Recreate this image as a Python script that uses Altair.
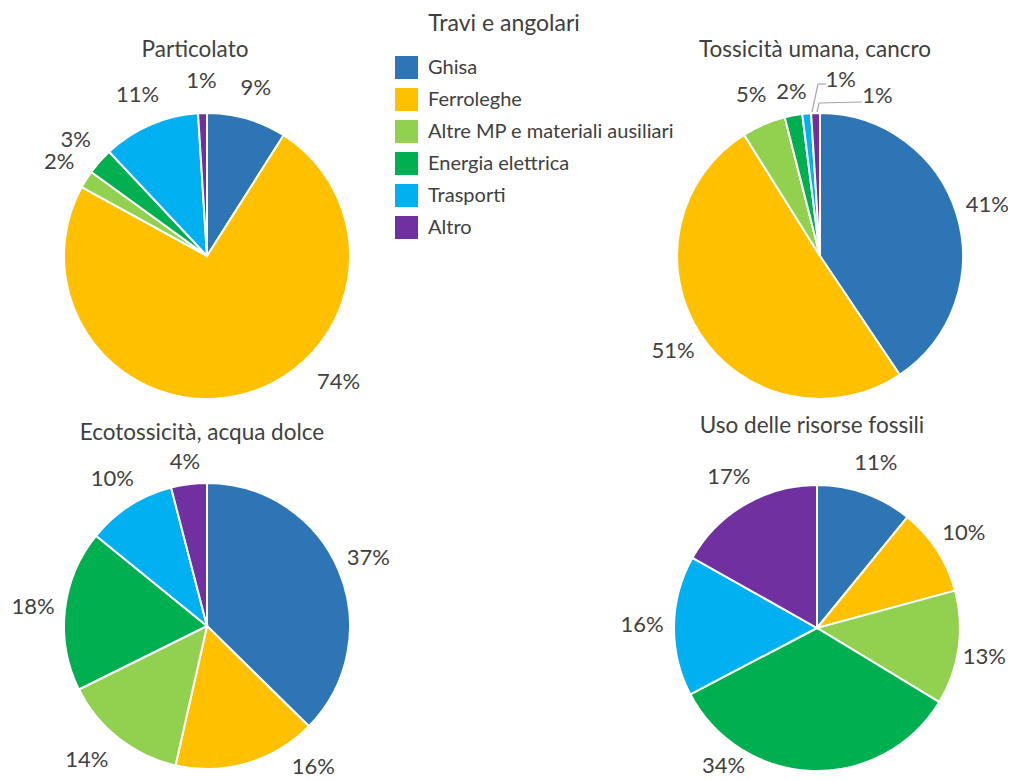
import altair as alt
import pandas as pd

# ---- data ----
categories = ["Ghisa", "Ferroleghe", "Altre MP e materiali ausiliari",
              "Energia elettrica", "Trasporti", "Altro"]
colors = ["#2E75B6", "#FFC000", "#92D050", "#00B050", "#00B0F0", "#7030A0"]
pie_names = ["Particolato", "Tossicità umana, cancro",
             "Ecotossicità, acqua dolce", "Uso delle risorse fossili"]
particolato = [9, 74, 2, 3, 11, 1]
tossicita = [41, 51, 5, 2, 1, 1]
ecotossicita = [37, 16, 14, 18, 10, 4]
fossili = [11, 10, 13, 34, 16, 17]
main_title = "Travi e angolari"

series = [particolato, tossicita, ecotossicita, fossili]
rows = []
for name, vals in zip(pie_names, series):
    for i, (cat, v) in enumerate(zip(categories, vals)):
        rows.append({"pie": name, "categoria": cat, "valore": v,
                     "ordine": i, "label": f"{v}%"})
df = pd.DataFrame(rows)

# ---- layout / style (page coords minus 8px margin) ----
M = 8
centers = {
    "Particolato": (207, 256),
    "Tossicità umana, cancro": (820, 256),
    "Ecotossicità, acqua dolce": (207, 626),
    "Uso delle risorse fossili": (817, 628),
}
subtitle_pos = {
    "Particolato": (195, 50),
    "Tossicità umana, cancro": (815, 50),
    "Ecotossicità, acqua dolce": (202, 433),
    "Uso delle risorse fossili": (812, 426),
}
label_nudges = {
    ("Particolato", "Ferroleghe"): (88, -44),
    ("Tossicità umana, cancro", "Energia elettrica"): (4, 8),
    ("Tossicità umana, cancro", "Trasporti"): (37, -2),
    ("Tossicità umana, cancro", "Altro"): (63, 15),
    ("Ecotossicità, acqua dolce", "Ferroleghe"): (57, -27),
    ("Ecotossicità, acqua dolce", "Altre MP e materiali ausiliari"): (-12, -4),
    ("Ecotossicità, acqua dolce", "Altro"): (0, 10),
    ("Uso delle risorse fossili", "Altre MP e materiali ausiliari"): (-6, 5),
    ("Uso delle risorse fossili", "Energia elettrica"): (-88, -37),
}
FONT = "Lato"
TXT = "#404040"
R_OUT = 143
R_LAB = 175
LAB_SIZE = 22

legend = alt.Legend(orient="none", legendX=387, legendY=48, title=None,
                    symbolType="square", symbolSize=529, labelFontSize=20,
                    labelFont=FONT, labelColor=TXT, rowPadding=9, padding=0,
                    symbolStrokeWidth=0, labelOffset=10, direction="vertical",
                    symbolOpacity=1, labelLimit=400)
color = alt.Color("categoria:N", scale=alt.Scale(domain=categories, range=colors),
                  legend=legend, sort=categories)


def make_pie(name):
    cx, cy = centers[name]
    x = alt.value(cx - M)
    y = alt.value(cy - M)
    base = alt.Chart(df).transform_filter(alt.datum.pie == name)
    arc = base.mark_arc(outerRadius=R_OUT, stroke="white", strokeWidth=2).encode(
        theta=alt.Theta("valore:Q", stack=True),
        color=color,
        order=alt.Order("ordine:Q"),
        x=x, y=y,
    )
    lab_base = base.transform_stack(
        stack="valore", groupby=["pie"], as_=["v0", "v1"],
        sort=[alt.SortField("ordine", order="ascending")],
    ).transform_calculate(mid="(datum.v0 + datum.v1) / 2")
    special = [c for (p, c) in label_nudges if p == name]
    layers = [arc]
    normal = lab_base
    for c in special:
        normal = normal.transform_filter(alt.datum.categoria != c)
    layers.append(normal.mark_text(radius=R_LAB, fontSize=LAB_SIZE, font=FONT, color=TXT,
                                   align="center", baseline="middle").encode(
        theta=alt.Theta("mid:Q", stack=False), text="label:N", x=x, y=y))
    for c in special:
        dx, dy = label_nudges[(name, c)]
        layers.append(lab_base.transform_filter(alt.datum.categoria == c).mark_text(
            radius=R_LAB, fontSize=LAB_SIZE, font=FONT, color=TXT, align="center",
            baseline="middle", dx=dx, dy=dy).encode(
            theta=alt.Theta("mid:Q", stack=False), text="label:N", x=x, y=y))
    return alt.layer(*layers)


pies = [make_pie(n) for n in pie_names]

one = pd.DataFrame({"k": [0]})
texts = [alt.Chart(one).mark_text(fontSize=23, font=FONT, color=TXT, align="center",
                                  baseline="middle").encode(
    x=alt.value(504 - M), y=alt.value(24 - M), text=alt.value(main_title))]
for n in pie_names:
    sx, sy = subtitle_pos[n]
    texts.append(alt.Chart(one).mark_text(fontSize=22.5, font=FONT, color=TXT,
                                          align="center", baseline="middle").encode(
        x=alt.value(sx - M), y=alt.value(sy - M), text=alt.value(n)))

# leader lines for the two small 1% slices
leader_segments = [
    (826, 84, 818, 84), (818, 84, 812, 112),
    (862, 102, 819, 103), (819, 103, 817, 112),
]
leaders = [alt.Chart(one).mark_rule(color="#A6A6A6", strokeWidth=1.2).encode(
    x=alt.value(a - M), y=alt.value(b - M), x2=alt.value(c - M), y2=alt.value(d - M))
    for (a, b, c, d) in leader_segments]

chart = alt.layer(*pies, *texts, *leaders).resolve_scale(
    theta="independent"
).properties(
    width=1000, height=772, padding=0, autosize="none", background="white"
).configure_view(stroke=None)

chart.save("out.html", embed_options={"renderer": "svg", "actions": False})
